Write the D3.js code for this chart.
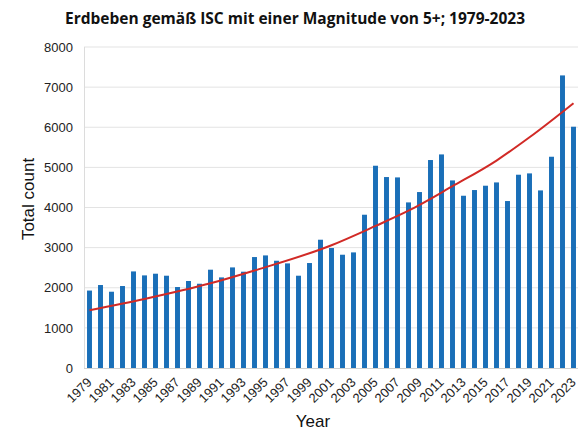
<!DOCTYPE html>
<html>
<head>
<meta charset="utf-8">
<script src="https://cdn.jsdelivr.net/npm/d3@7"></script>
<style>
body { margin: 0; background: #fff; }
svg { display: block; }
</style>
</head>
<body>
<div id="chart"></div>
<script>
// years and yearly counts
var years = d3.range(1979, 2024);
var counts = [1930, 2068, 1901, 2043, 2407, 2308, 2350, 2300, 2018, 2168,
              2100, 2450, 2258, 2507, 2400, 2765, 2806, 2673, 2607, 2300,
              2616, 3197, 2990, 2823, 2881, 3820, 5041, 4759, 4750, 4127,
              4385, 5183, 5323, 4675, 4293, 4435, 4543, 4625, 4161, 4817,
              4850, 4426, 5265, 7292, 6013];
// trend line at a few years
var trendYears = [1979, 1984, 1990, 1994, 2001, 2005, 2008, 2012, 2016, 2019, 2023];
var trendValues = [1440, 1720, 2110, 2430, 3060, 3540, 3920, 4530, 5170, 5750, 6600];
var yTicks = [0, 1000, 2000, 3000, 4000, 5000, 6000, 7000, 8000];

var W = 578, H = 432;
var margin = {top: 47, right: 0, bottom: 64, left: 84};
var width = W - margin.left - margin.right,
    height = H - margin.top - margin.bottom;

var svg = d3.select("#chart").append("svg")
    .attr("width", W)
    .attr("height", H);

var g = svg.append("g")
    .attr("transform", "translate(" + margin.left + "," + margin.top + ")");

var x = d3.scaleBand()
    .domain(years)
    .range([0, 11 * years.length])
    .paddingInner(0.55)
    .paddingOuter(0.275);

var y = d3.scaleLinear()
    .domain([0, 8000])
    .range([height, 0]);

// grid lines
g.selectAll(".grid")
    .data(yTicks.slice(1))
    .enter().append("line")
    .attr("x1", 0)
    .attr("x2", width)
    .attr("y1", function(d) { return y(d); })
    .attr("y2", function(d) { return y(d); })
    .style("stroke", "#e3e3e3")
    .style("stroke-width", 1);

// left axis line
g.append("line")
    .attr("x1", 0.5).attr("x2", 0.5)
    .attr("y1", 0).attr("y2", height)
    .style("stroke", "#dcdcdc");

var yAxis = d3.axisLeft(y).tickValues(yTicks).tickSize(0).tickPadding(11)
    .tickFormat(d3.format("d"));
g.append("g")
    .call(yAxis)
    .call(function(s) { s.select(".domain").remove(); })
    .selectAll("text")
    .style("font", "13px 'Liberation Sans', Arial, sans-serif")
    .style("fill", "#222");

// bars
g.selectAll(".bar")
    .data(counts)
    .enter().append("rect")
    .attr("class", "bar")
    .attr("x", function(d, i) { return x(years[i]); })
    .attr("width", x.bandwidth())
    .attr("y", function(d) { return y(d); })
    .attr("height", function(d) { return height - y(d); })
    .style("fill", "#1a6fb8");

// bottom axis
g.append("line")
    .attr("x1", 0).attr("x2", width)
    .attr("y1", height + 0.5).attr("y2", height + 0.5)
    .style("stroke", "#d0d0d0");

var xAxis = d3.axisBottom(x)
    .tickValues(years.filter(function(d, i) { return i % 2 === 0; }))
    .tickSize(0)
    .tickPadding(4);

g.append("g")
    .attr("transform", "translate(0," + height + ")")
    .call(xAxis)
    .call(function(s) { s.select(".domain").remove(); })
    .selectAll("text")
    .style("font", "13px 'Liberation Sans', Arial, sans-serif")
    .style("fill", "#222")
    .attr("text-anchor", "end")
    .attr("dy", "0.35em")
    .attr("transform", "translate(-3,9) rotate(-45)");

// trend line
var line = d3.line()
    .x(function(d, i) { return x(d) + x.bandwidth() / 2; })
    .y(function(d, i) { return y(trendValues[i]); })
    .curve(d3.curveMonotoneX);

g.append("path")
    .datum(trendYears)
    .attr("d", line)
    .style("fill", "none")
    .style("stroke", "#d12a26")
    .style("stroke-width", 2);

// title
svg.append("text")
    .attr("x", 295)
    .attr("y", 24)
    .attr("text-anchor", "middle")
    .style("font", "bold 15.5px 'Open Sans', 'Liberation Sans', sans-serif")
    .style("fill", "#111")
    .text("Erdbeben gemäß ISC mit einer Magnitude von 5+; 1979-2023");

// axis titles
svg.append("text")
    .attr("transform", "translate(34,199) rotate(-90)")
    .attr("text-anchor", "middle")
    .style("font", "17px 'Liberation Sans', Arial, sans-serif")
    .style("fill", "#111")
    .text("Total count");

svg.append("text")
    .attr("x", 313)
    .attr("y", 427)
    .attr("text-anchor", "middle")
    .style("font", "17px 'Liberation Sans', Arial, sans-serif")
    .style("fill", "#111")
    .text("Year");
</script>
</body>
</html>
